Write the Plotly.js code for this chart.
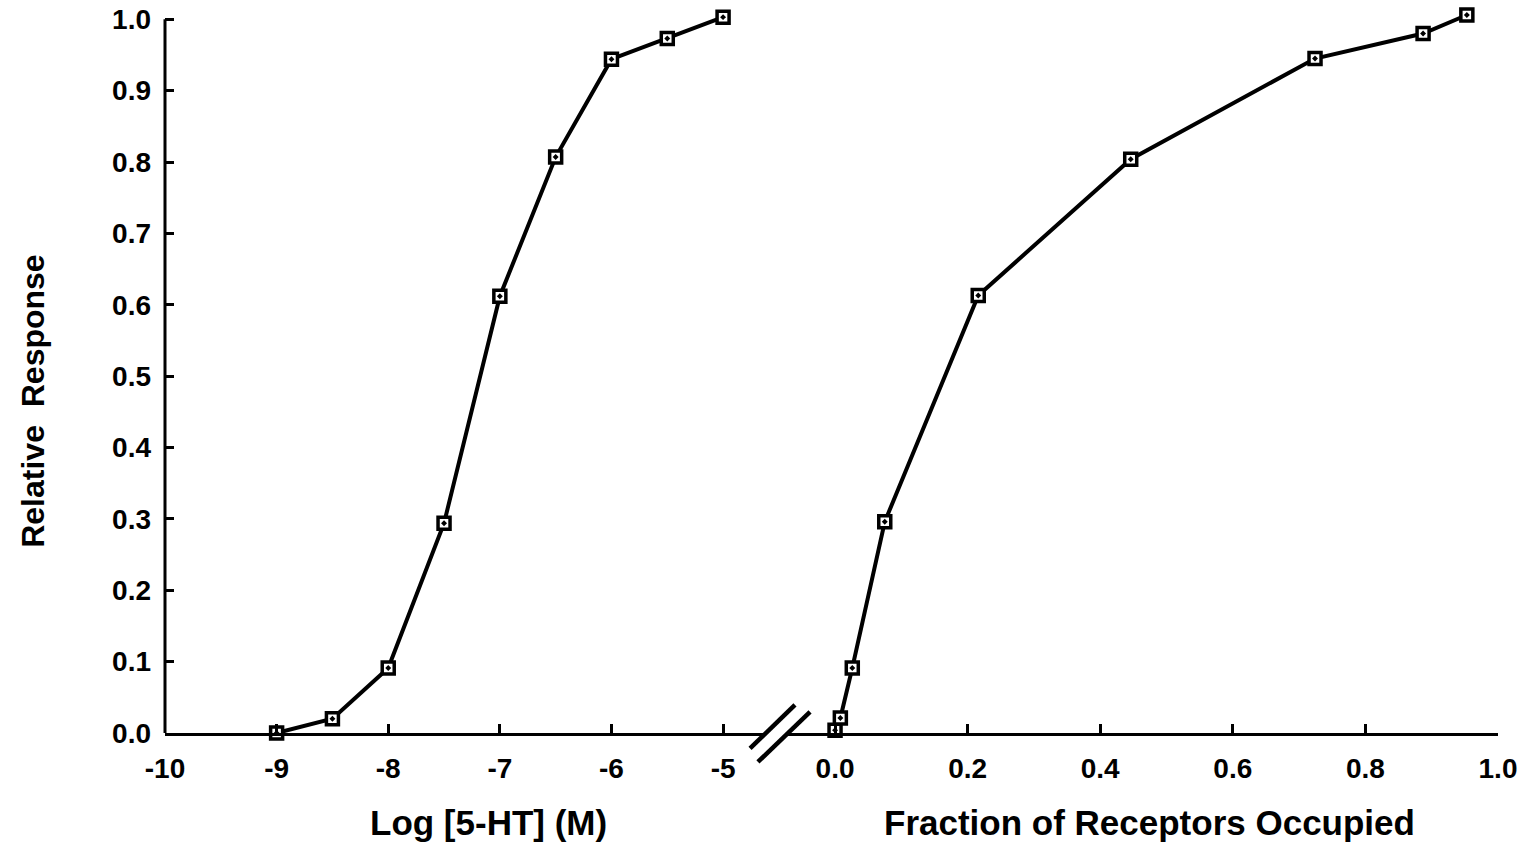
<!DOCTYPE html>
<html>
<head>
<meta charset="utf-8">
<script src="https://cdn.plot.ly/plotly-3.0.1.min.js"></script>
<style>html,body{margin:0;padding:0;background:#fff;}#chart{width:1534px;height:848px;}</style>
</head>
<body>
<div id="chart"></div>
<script>
// Left panel: log concentration vs response
const logConc = [-9, -8.5, -8, -7.5, -7, -6.5, -6, -5.5, -5];
const responseLeft = [0.0, 0.02, 0.091, 0.294, 0.612, 0.807, 0.944, 0.973, 1.003];
// Right panel: fraction of receptors occupied vs response
const fractionOccupied = [0.0, 0.008, 0.026, 0.075, 0.216, 0.446, 0.724, 0.887, 0.953];
const responseRight = [0.004, 0.021, 0.091, 0.296, 0.613, 0.804, 0.945, 0.980, 1.006];

const leftTickVals = [-10, -9, -8, -7, -6, -5];
const leftTickText = ['-10', '-9', '-8', '-7', '-6', '-5'];
const rightTickVals = [0, 0.2, 0.4, 0.6, 0.8, 1.0];
const rightTickText = ['0.0', '0.2', '0.4', '0.6', '0.8', '1.0'];
const yTickVals = [0, 0.1, 0.2, 0.3, 0.4, 0.5, 0.6, 0.7, 0.8, 0.9, 1.0];
const yTickText = ['0.0', '0.1', '0.2', '0.3', '0.4', '0.5', '0.6', '0.7', '0.8', '0.9', '1.0'];

const FONT = 'Liberation Sans, Arial, Helvetica, sans-serif';
const tickFont = {family: FONT, size: 28, color: '#000', weight: 'bold'};
const titleFont = {family: FONT, size: 35, color: '#000', weight: 'bold'};

const markerStyle = {symbol: 'square-dot', size: 12, color: '#fff', line: {color: '#000', width: 3.5}};

const traces = [
  {x: logConc, y: responseLeft, xaxis: 'x', yaxis: 'y', mode: 'lines+markers',
   line: {color: '#000', width: 4}, marker: markerStyle, cliponaxis: false, showlegend: false},
  {x: fractionOccupied, y: responseRight, xaxis: 'x2', yaxis: 'y', mode: 'lines+markers',
   line: {color: '#000', width: 4}, marker: markerStyle, cliponaxis: false, showlegend: false}
];

const axisCommon = {
  showline: true, linecolor: '#000', linewidth: 3, showgrid: false, zeroline: false,
  ticks: 'inside', ticklen: 9, tickwidth: 3, tickcolor: '#000', tickfont: tickFont
};

const Y_TOP = 1.02;
const PX_PER_UNIT = 714;
const TOP_MARGIN = Math.round(733 - PX_PER_UNIT * Y_TOP);

const layout = {
  width: 1534, height: 848,
  margin: {l: 165, r: 36, t: TOP_MARGIN, b: 115},
  paper_bgcolor: '#fff', plot_bgcolor: '#fff',
  xaxis: Object.assign({}, axisCommon, {
    domain: [0, 0.4509], range: [-10, -4.615], anchor: 'y',
    tickmode: 'array', tickvals: leftTickVals, ticktext: leftTickText, ticklabelstandoff: 8
  }),
  xaxis2: Object.assign({}, axisCommon, {
    domain: [0.4674, 1], range: [-0.0709, 1.0], anchor: 'y',
    tickmode: 'array', tickvals: rightTickVals, ticktext: rightTickText, ticklabelstandoff: 8
  }),
  yaxis: Object.assign({}, axisCommon, {
    showline: false,
    range: [0, Y_TOP], anchor: 'x',
    tickmode: 'array', tickvals: yTickVals, ticktext: yTickText, ticklabelstandoff: 13
  }),
  annotations: [
    {text: 'Log [5-HT] (M)', xref: 'x', yref: 'paper', x: -7.1, y: -0.123, yanchor: 'middle',
     showarrow: false, font: titleFont},
    {text: 'Fraction of Receptors Occupied', xref: 'x2', yref: 'paper', x: 0.475, y: -0.123, yanchor: 'middle',
     showarrow: false, font: titleFont},
    {text: 'Relative\u00a0\u00a0Response', xref: 'paper', yref: 'paper', x: -0.099, y: 0.455,
     xanchor: 'center', yanchor: 'middle', textangle: -90, showarrow: false,
     font: {family: FONT, size: 32, color: '#000', weight: 'bold'}}
  ],
  shapes: [
    // y axis line ending at 1.0
    {type: 'line', xref: 'paper', yref: 'y', x0: 0, y0: 0, x1: 0, y1: 1.0,
     line: {color: '#000', width: 3}},
    // axis break marks
    {type: 'line', xref: 'paper', yref: 'paper', x0: 0.4389, y0: -0.021, x1: 0.4726, y1: 0.0385,
     line: {color: '#000', width: 4.5}},
    {type: 'line', xref: 'paper', yref: 'paper', x0: 0.4448, y0: -0.0398, x1: 0.4839, y1: 0.0289,
     line: {color: '#000', width: 4.5}}
  ]
};

Plotly.newPlot('chart', traces, layout, {displayModeBar: false, staticPlot: true});
</script>
</body>
</html>
